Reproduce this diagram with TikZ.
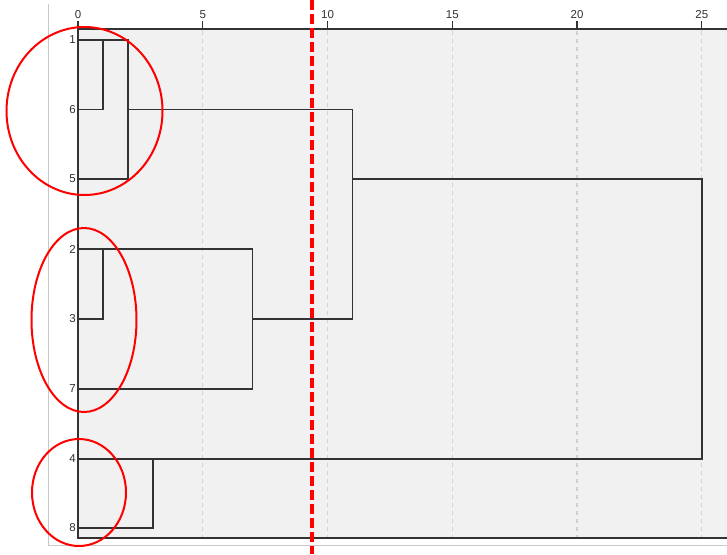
\documentclass[tikz,border=0pt]{standalone}
\usepackage{fontspec}
\setmainfont{Liberation Sans}
\definecolor{panel}{HTML}{F1F1F1}
\definecolor{gridc}{HTML}{D2D2D2}
\definecolor{treec}{HTML}{333333}
\definecolor{framec}{HTML}{C8C8C8}
\definecolor{cutred}{HTML}{FF0000}
\begin{document}
\begin{tikzpicture}[x=1pt,y=-1pt,
  tree/.style={draw=treec, line width=1.4pt},
  axisline/.style={draw=treec, line width=1.6pt},
  gridline/.style={draw=gridc, line width=1.1pt, dash pattern=on 4pt off 4pt},
  leaflab/.style={anchor=east, inner sep=0pt, font=\fontsize{11.5}{12}\selectfont, text=treec},
  ticklab/.style={anchor=south, inner sep=0pt, font=\fontsize{11.5}{12}\selectfont, text=treec},
  ring/.style={draw=cutred, line width=2pt},
  cut/.style={draw=cutred, line width=3.2pt, dash pattern=on 10pt off 4pt}]
\useasboundingbox (0,0) rectangle (727,554);
\fill[white] (0,0) rectangle (727,554);
% outer frame lines
\draw[framec, line width=1pt] (48,4) -- (48,545) -- (727,545);
% panel
\fill[panel] (78,29) rectangle (727,538);
% grid lines and ticks
\foreach \v/\px in {5/202.8,10/327.5,15/452.3,20/577,25/701.8}{
  \draw[gridline] (\px,31) -- (\px,537);
  \draw[axisline, line width=1.3pt] (\px,29) -- (\px,21);
  \node[ticklab] at (\px,19) {\v};
}
\draw[axisline, line width=1.3pt] (78,29) -- (78,21);
\node[ticklab] (t0) at (78,19) {0};
% frame of panel
\draw[axisline] (78,21) -- (78,538) -- (727,538);
\draw[axisline] (78,29) -- (727,29);
% leaf labels
\node[leaflab] (l1) at (76,40) {1};
\node[leaflab] (l6) at (76,109.5) {6};
\node[leaflab] (l5) at (76,179) {5};
\node[leaflab] (l2) at (76,249) {2};
\node[leaflab] (l3) at (76,319) {3};
\node[leaflab] (l7) at (76,389) {7};
\node[leaflab] (l4) at (76,459) {4};
\node[leaflab] (l8) at (76,528) {8};
% leaf start coordinates
\foreach \k/\yy in {1/40,6/109.5,5/179,2/249,3/319,7/389,4/459,8/528}{
  \coordinate (s\k) at (78,\yy);
}
% merge coordinates
\coordinate (m16a) at (103,40);
\coordinate (m16b) at (103,109.5);
\coordinate (m165a) at (128,40);
\coordinate (m165b) at (128,179);
\coordinate (m165c) at (128,109.5);
\coordinate (m23a) at (103,249);
\coordinate (m23b) at (103,319);
\coordinate (m237a) at (252.6,249);
\coordinate (m237b) at (252.6,389);
\coordinate (m237c) at (252.6,319);
\coordinate (mAa) at (352.4,109.5);
\coordinate (mAb) at (352.4,319);
\coordinate (mAc) at (352.4,179);
\coordinate (m48a) at (152.8,459);
\coordinate (m48b) at (152.8,528);
\coordinate (mRa) at (701.8,179);
\coordinate (mRb) at (701.8,459);
% dendrogram
\draw[tree] (s1) -- (m165a) -- (m165b) -- (s5);
\draw[tree] (m16a) -- (m16b) -- (s6);
\draw[tree] (m165c) -- (mAa) -- (mAb) -- (m237c);
\draw[tree] (s2) -- (m237a) -- (m237b) -- (s7);
\draw[tree] (m23a) -- (m23b) -- (s3);
\draw[tree] (mAc) -- (mRa) -- (mRb) -- (s4);
\draw[tree] (m48a) -- (m48b) -- (s8);
% red rings
\draw[ring] (84.5,111) ellipse [x radius=78, y radius=84];
\draw[ring] (84,320) ellipse [x radius=52.5, y radius=92];
\draw[ring] (79,492.5) ellipse [x radius=47, y radius=53.5];
% cut line
\coordinate (cutTop) at (312,0);
\coordinate (cutBot) at (312,554);
\draw[cut] (cutTop) -- (cutBot);
\end{tikzpicture}
\end{document}
